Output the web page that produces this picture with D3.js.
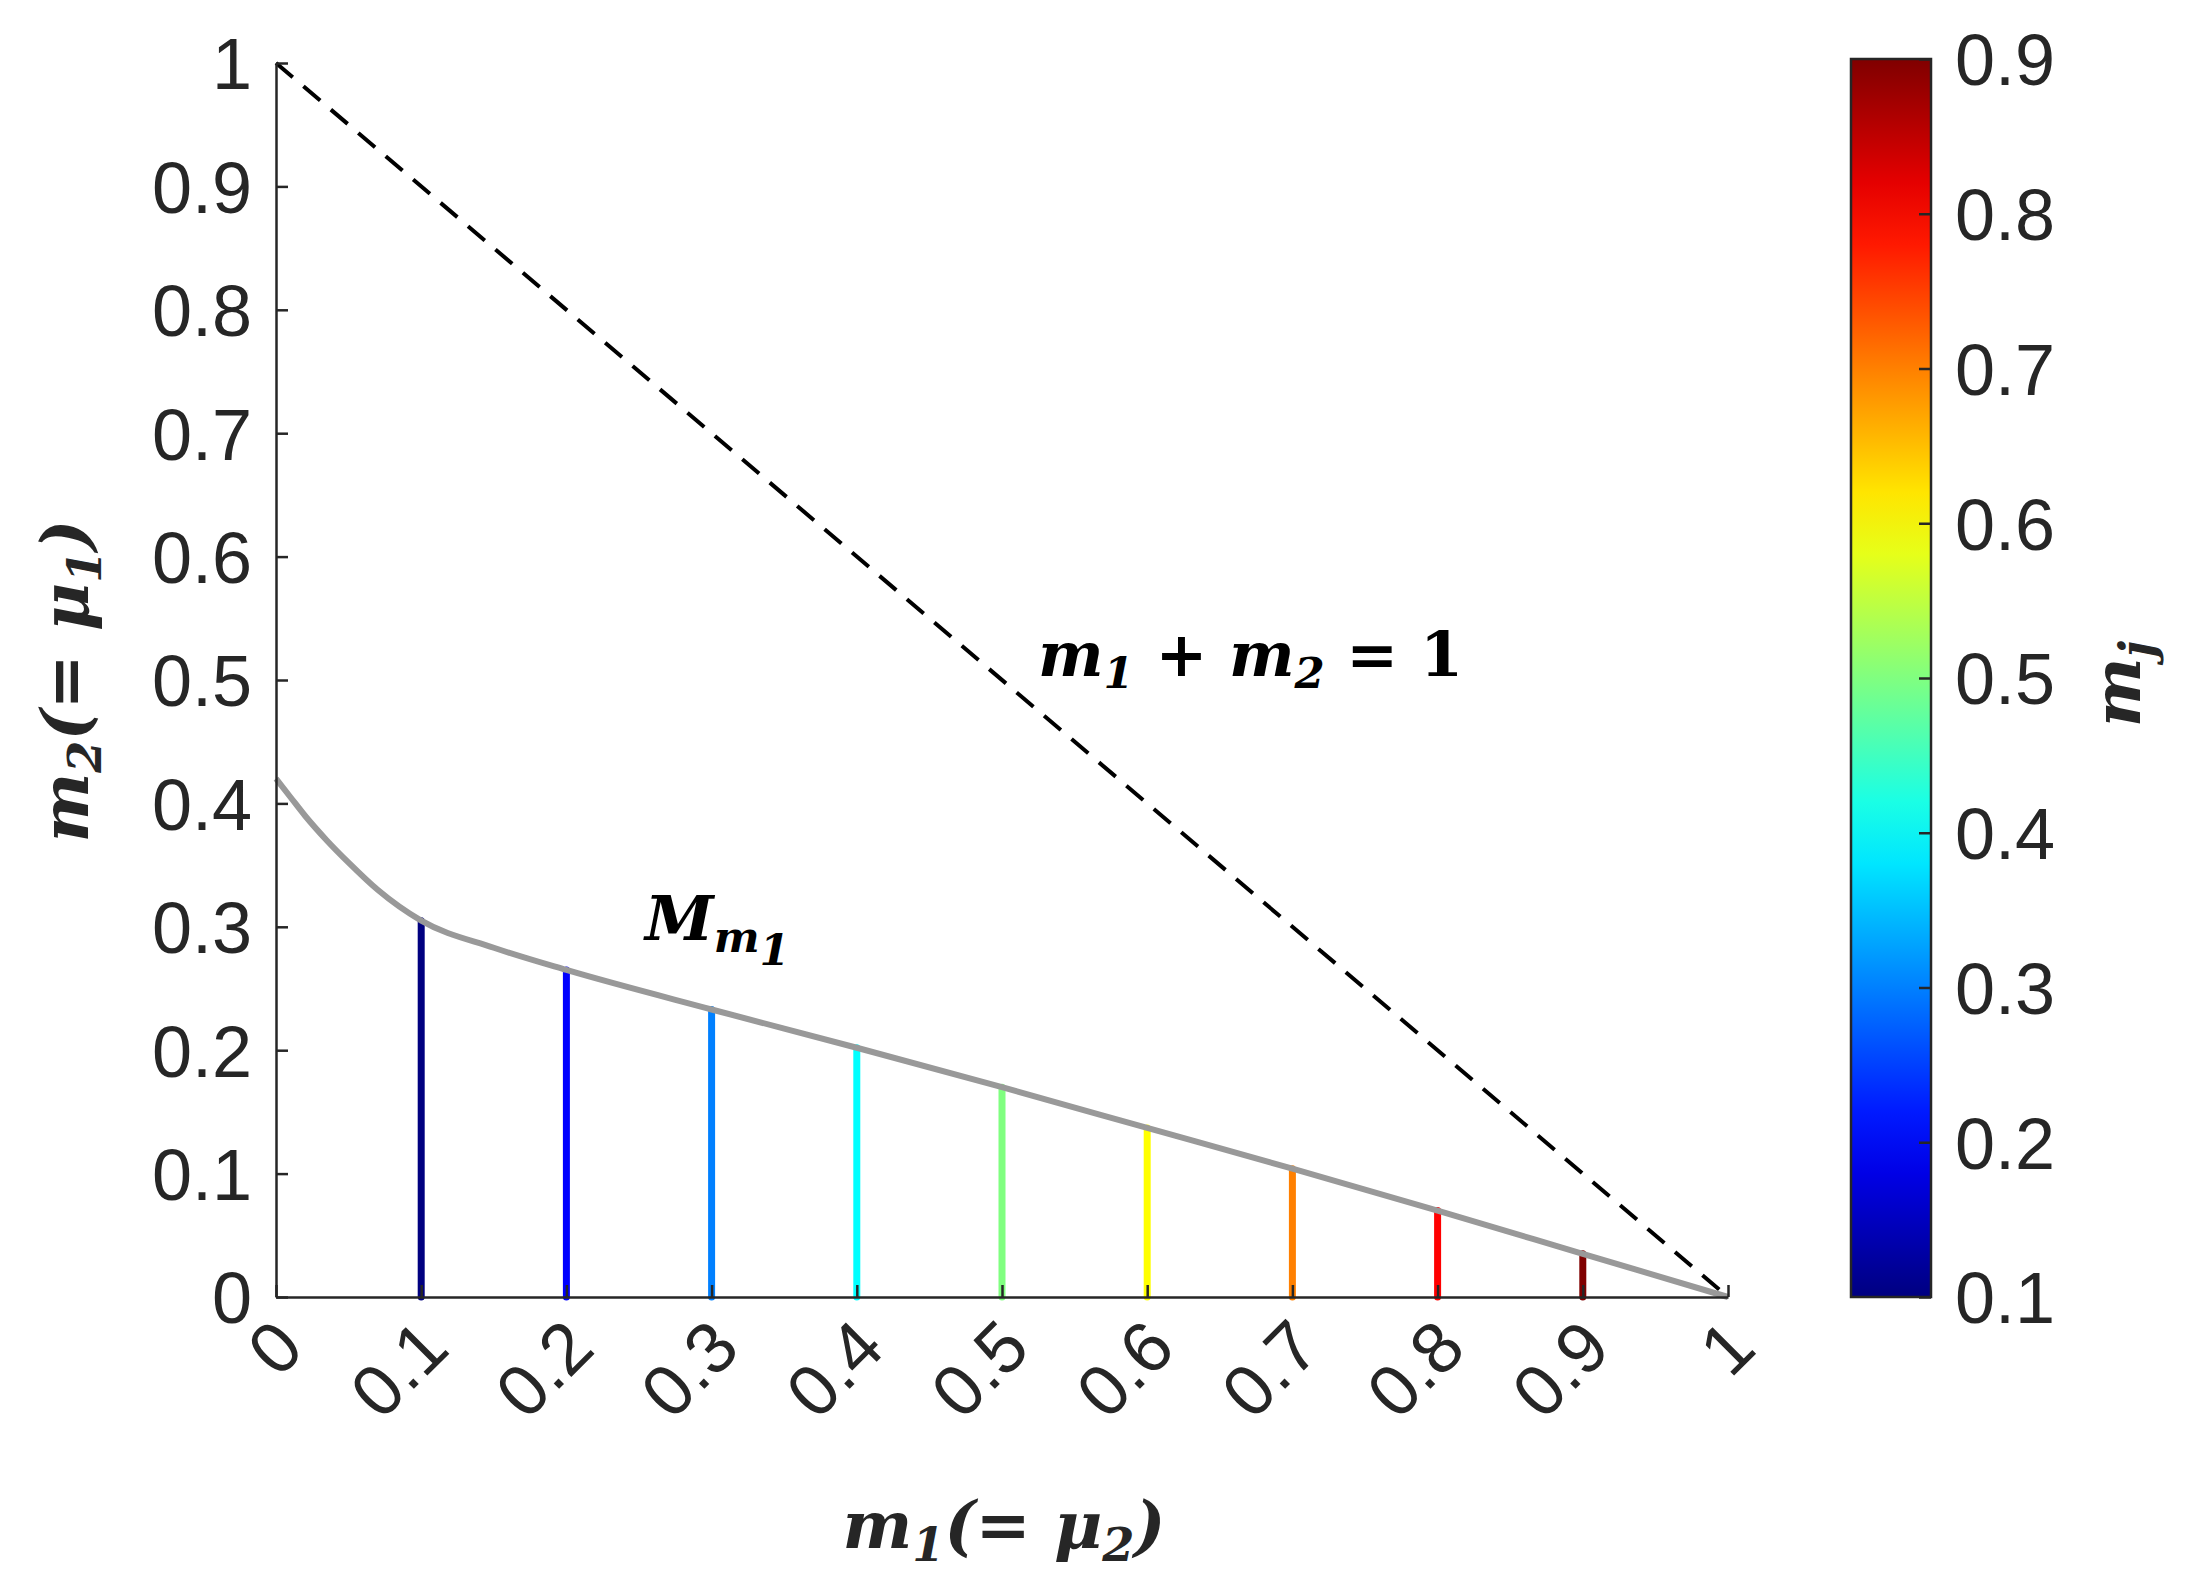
<!DOCTYPE html>
<html><head><meta charset="utf-8">
<script src="https://cdn.jsdelivr.net/npm/d3@7"></script>
<style>body{margin:0;background:#fff}</style></head>
<body><svg id="c" width="2199" height="1594"></svg>
<script>
const xTicks=[0,0.1,0.2,0.3,0.4,0.5,0.6,0.7,0.8,0.9,1];
const yTicks=[0,0.1,0.2,0.3,0.4,0.5,0.6,0.7,0.8,0.9,1];
const cbTicks=[0.1,0.2,0.3,0.4,0.5,0.6,0.7,0.8,0.9];
const curveX=[0,0.01,0.02,0.035,0.05,0.07,0.1,0.15,0.2,0.3,0.4,0.5,0.6,0.7,0.8,0.9,1];
const curveY=[0.42,0.405,0.39,0.37,0.352,0.33,0.305,0.283,0.265,0.233,0.202,0.17,0.137,0.104,0.07,0.035,0];
const stemX=[0.1,0.2,0.3,0.4,0.5,0.6,0.7,0.8,0.9];
const stemY=[0.305,0.265,0.233,0.202,0.17,0.137,0.104,0.07,0.035];
const stemM=[0.1,0.2,0.3,0.4,0.5,0.6,0.7,0.8,0.9];

function jet(t){
  const c=v=>Math.max(0,Math.min(1,v));
  const r=c(1.5-Math.abs(4*t-3)), g=c(1.5-Math.abs(4*t-2)), b=c(1.5-Math.abs(4*t-1));
  return d3.rgb(r*255,g*255,b*255).formatHex();
}
const svg=d3.select("#c");
const x=d3.scaleLinear([0,1],[276,1728]);
const y=d3.scaleLinear([0,1],[1297,63]);
const cs=d3.scaleLinear([0.1,0.9],[0,1]);
const font="Arial, 'Liberation Sans', sans-serif";
const tc="#262626";

// dashed line
svg.append("line").attr("x1",x(0)).attr("y1",y(1)).attr("x2",x(1)).attr("y2",y(0))
  .attr("stroke","#000").attr("stroke-width",4).attr("stroke-dasharray","22,14");
// stems
svg.selectAll(".stem").data(stemX).join("line")
  .attr("x1",d=>x(d)).attr("x2",d=>x(d)).attr("y1",y(0)).attr("y2",(d,i)=>y(stemY[i]))
  .attr("stroke",(d,i)=>jet(cs(stemM[i]))).attr("stroke-width",7).attr("stroke-linecap","round");
// curve
svg.append("path").datum(curveX.map((d,i)=>[d,curveY[i]]))
  .attr("d",d3.line().x(d=>x(d[0])).y(d=>y(d[1])).curve(d3.curveMonotoneX))
  .attr("fill","none").attr("stroke","#999").attr("stroke-width",6);

// axes
const ax=svg.append("g").attr("transform",`translate(0,${y(0)})`)
  .call(d3.axisBottom(x).tickValues(xTicks).tickSizeInner(-12).tickSizeOuter(0).tickFormat(d3.format("")));
ax.selectAll("text").attr("font-size",72).attr("font-family",font).attr("fill",tc)
  .attr("text-anchor","end").attr("dx",0).attr("dy",0)
  .attr("transform","translate(28,52) rotate(-45)");
const ay=svg.append("g").attr("transform",`translate(${x(0)},0)`)
  .call(d3.axisLeft(y).tickValues(yTicks).tickSizeInner(-12).tickSizeOuter(0).tickFormat(d3.format("")));
ay.selectAll("text").attr("font-size",72).attr("font-family",font).attr("fill",tc).attr("x",-24).attr("dy","0.36em");
svg.selectAll(".domain").attr("stroke","#262626").attr("stroke-width",2.5);
svg.selectAll(".tick line").attr("stroke","#262626").attr("stroke-width",2.5);

// colorbar
const cbX=1851,cbW=80,cbTop=59,cbBot=1297;
const cy=d3.scaleLinear([0.1,0.9],[cbBot,cbTop]);
const grad=svg.append("defs").append("linearGradient").attr("id","jet").attr("x1",0).attr("y1",1).attr("x2",0).attr("y2",0);
d3.range(0,1.0001,0.05).forEach(t=>grad.append("stop").attr("offset",t).attr("stop-color",jet(t)));
svg.append("rect").attr("x",cbX).attr("y",cbTop).attr("width",cbW).attr("height",cbBot-cbTop)
  .attr("fill","url(#jet)").attr("stroke","#262626").attr("stroke-width",2.5);
const cax=svg.append("g").attr("transform",`translate(${cbX+cbW},0)`)
  .call(d3.axisRight(cy).tickValues(cbTicks).tickSizeInner(-12).tickSizeOuter(0).tickFormat(d3.format("")));
cax.select(".domain").remove();
cax.selectAll(".tick line").attr("stroke","#262626").attr("stroke-width",2.5);
cax.selectAll("text").attr("font-size",72).attr("font-family",font).attr("fill",tc).attr("x",24).attr("dy","0.36em");

// labels
const serif="'DejaVu Serif','Liberation Serif',serif";
function mathText(g,parts,size){
  const t=g.append("text").attr("font-family",serif).attr("font-style","italic").attr("font-weight","bold").attr("font-size",size).attr("fill","#000");
  parts.forEach(p=>{const s=t.append("tspan").text(p[0]);
    if(p[1]==="sub") s.attr("font-size",size*0.7).attr("dy",size*0.2);
    if(p[1]==="up") s.attr("dy",-size*0.2);
    if(p[1]==="n") s.attr("font-style","normal");});
  return t;
}
mathText(svg,[["m"],["1","sub"],[" + ","up"],["m"],["2","sub"],[" = ","up"],["1","n"]],62).attr("x",1038).attr("y",676);
mathText(svg,[["M"],["m","sub"],["1","sub"]],62).attr("x",645).attr("y",940);
const xl=mathText(svg,[["m"],["1","sub"],["(= μ","up"],["2","sub"],[")","up"]],66).attr("x",1004).attr("y",1548).attr("text-anchor","middle").attr("fill","#262626");
const yl=mathText(svg,[["m"],["2","sub"],["(= μ","up"],["1","sub"],[")","up"]],66).attr("text-anchor","middle").attr("fill","#262626")
  .attr("transform","translate(88,681) rotate(-90)");
const cl=mathText(svg,[["m"],["j","sub"]],66).attr("text-anchor","middle").attr("fill","#262626")
  .attr("transform","translate(2140,684) rotate(-90)");
</script></body></html>
